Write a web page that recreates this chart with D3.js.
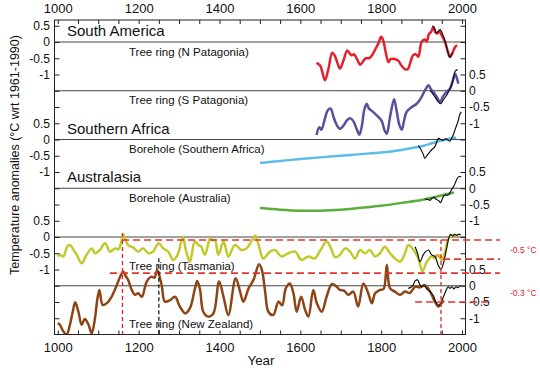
<!DOCTYPE html>
<html>
<head>
<meta charset="utf-8">
<script src="https://cdn.jsdelivr.net/npm/d3@7"></script>
<style>
  body { margin: 0; background: #fff; }
  svg { display: block; font-family: Arial, "Liberation Sans", sans-serif; }
</style>
</head>
<body>
<div id="chart"></div>
<script>
// Stacked proxy-temperature panels (°C wrt 1961-1990), each panel offset by
// 1.5 °C on one shared y scale. Values are [year, anomaly].

const yearTicks = [1000, 1200, 1400, 1600, 1800, 2000];
const regionTitles = ["South America", "Southern Africa", "Australasia"];
const regionPanels = [0, 2, 3];
const seriesLabels = [
  "Tree ring (N Patagonia)",
  "Tree ring (S Patagonia)",
  "Borehole (Southern Africa)",
  "Borehole (Australia)",
  "Tree ring (Tasmania)",
  "Tree ring (New Zealand)",
];
const panelTickValues = [0.5, 0, -0.5, -1];

const nPatagonia = [
  [1640, -0.64], [1649, -0.72], [1655, -0.95], [1661, -1.18], [1669, -0.86],
  [1679, -0.33], [1686, -0.44], [1692, -0.65], [1698, -0.82], [1706, -0.6],
  [1716, -0.26], [1722, -0.35], [1727, -0.41], [1733, -0.38], [1740, -0.52],
  [1748, -0.7], [1755, -0.6], [1762, -0.5], [1770, -0.5], [1778, -0.4],
  [1786, -0.21], [1793, -0.05], [1800, 0.16], [1805, 0.05], [1811, -0.3],
  [1818, -0.62], [1824, -0.52], [1832, -0.52], [1842, -0.57], [1850, -0.72],
  [1859, -0.84], [1866, -0.83], [1873, -0.6], [1879, -0.41], [1886, -0.38],
  [1892, -0.45], [1900, 0.0], [1908, 0.08], [1913, 0.02], [1918, 0.24],
  [1924, 0.32], [1929, 0.46], [1934, 0.3], [1938, 0.26], [1944, 0.32],
  [1950, 0.2], [1958, 0.0], [1965, -0.3], [1970, -0.46], [1977, -0.32],
  [1983, -0.15], [1988, -0.1],
];
const nPatagoniaObs = [
  [1927, 0.5], [1931, 0.45], [1937, 0.28], [1942, 0.34], [1946, 0.38],
  [1950, 0.3], [1955, 0.15], [1962, -0.15], [1966, -0.35], [1970, -0.47],
  [1974, -0.4], [1977, -0.33],
];

const sPatagonia = [
  [1640, -1.36], [1647, -1.12], [1652, -1.2], [1660, -0.9], [1668, -0.6],
  [1675, -0.55], [1682, -0.8], [1690, -1.05], [1698, -1.17], [1708, -1.05],
  [1716, -0.9], [1724, -0.85], [1732, -0.95], [1740, -1.2], [1746, -1.35],
  [1752, -1.1], [1758, -0.6], [1764, -0.4], [1770, -0.55], [1777, -0.62],
  [1789, -0.76], [1801, -0.92], [1808, -1.2], [1814, -1.32], [1822, -0.8],
  [1832, -0.26], [1838, -0.6], [1845, -1.05], [1851, -1.2], [1857, -0.9],
  [1863, -0.65], [1876, -0.5], [1888, -0.4], [1900, -0.19], [1910, 0.05],
  [1917, 0.17], [1923, 0.05], [1929, -0.04], [1938, -0.2], [1946, -0.35],
  [1952, -0.2], [1958, -0.09], [1965, 0.0], [1970, 0.06], [1977, 0.3],
  [1983, 0.52], [1987, 0.4], [1991, 0.22],
];
const sPatagoniaObs = [
  [1921, 0.01], [1927, -0.08], [1933, -0.19], [1940, -0.32], [1947, -0.4],
  [1954, -0.28], [1962, -0.14], [1968, 0.0], [1973, 0.12], [1978, 0.35],
  [1983, 0.6], [1989, 0.65],
];

const safricaBorehole = [
  [1500, -0.72], [1550, -0.66], [1600, -0.6], [1650, -0.55], [1700, -0.5],
  [1750, -0.45], [1800, -0.4], [1850, -0.32], [1900, -0.21], [1930, -0.1],
  [1960, 0.0], [1985, 0.06],
];
const safricaObs = [
  [1892, -0.19], [1898, -0.3], [1904, -0.45], [1908, -0.58], [1914, -0.48],
  [1921, -0.37], [1928, -0.28], [1933, -0.22], [1938, -0.05], [1942, 0.04],
  [1948, 0.0], [1954, -0.02], [1960, 0.02], [1966, -0.02], [1970, -0.05],
  [1975, 0.05], [1980, 0.2], [1985, 0.38], [1990, 0.55], [1994, 0.75],
  [1998, 0.85],
];

const australiaBorehole = [
  [1500, -0.61], [1550, -0.66], [1600, -0.69], [1650, -0.69], [1700, -0.66],
  [1750, -0.6], [1800, -0.54], [1850, -0.45], [1900, -0.36], [1930, -0.28],
  [1960, -0.19], [1980, -0.13],
];
const australiaObs = [
  [1908, -0.33], [1915, -0.34], [1921, -0.37], [1926, -0.3], [1931, -0.28],
  [1936, -0.34], [1942, -0.38], [1947, -0.44], [1952, -0.3], [1958, -0.2],
  [1963, -0.22], [1968, -0.18], [1974, -0.05], [1979, 0.05], [1983, 0.15],
  [1988, 0.3], [1993, 0.36], [1998, 0.35],
];

const tasmania = [
  [1000, -0.6], [1005, -0.55], [1014, -0.6], [1020, -0.4], [1026, -0.25],
  [1033, -0.28], [1040, -0.42], [1047, -0.55], [1059, -0.81], [1071, -0.55],
  [1084, -0.35], [1092, -0.5], [1104, -0.4], [1117, -0.19], [1129, -0.45],
  [1142, -0.35], [1150, -0.38], [1156, -0.2], [1162, 0.08], [1168, -0.1],
  [1174, -0.25], [1186, -0.32], [1199, -0.45], [1211, -0.35], [1224, -0.5],
  [1236, -0.45], [1249, -0.19], [1261, -0.35], [1273, -0.45], [1286, -0.71],
  [1298, -0.5], [1305, -0.15], [1310, 0.0], [1315, -0.3], [1319, -0.5],
  [1327, -0.76], [1339, -0.14], [1348, -0.25], [1355, -0.3], [1364, -0.55],
  [1377, -0.04], [1383, -0.1], [1389, -0.09], [1397, -0.55], [1410, -0.14],
  [1422, -0.6], [1438, -0.25], [1455, -0.4], [1467, -0.35], [1478, -0.15],
  [1488, 0.04], [1498, -0.3], [1508, -0.66], [1525, -0.45], [1537, -0.4],
  [1554, -0.6], [1570, -0.5], [1587, -0.45], [1603, -0.71], [1620, -0.6],
  [1636, -0.66], [1650, -0.4], [1665, -0.14], [1676, -0.35], [1686, -0.62],
  [1698, -0.55], [1711, -0.35], [1723, -0.45], [1735, -0.66], [1748, -0.4],
  [1760, -0.5], [1772, -0.4], [1785, -0.6], [1797, -0.5], [1809, -0.3],
  [1822, -0.5], [1834, -0.66], [1847, -0.76], [1859, -0.5], [1867, -0.25],
  [1880, -0.4], [1892, -0.66], [1902, -1.05], [1913, -0.76], [1925, -0.6],
  [1933, -0.65], [1941, -0.55], [1950, -0.71], [1958, -0.45], [1965, -0.1],
  [1970, 0.0], [1976, 0.05], [1983, 0.06], [1990, 0.02],
];
const tasmaniaAlt = [
  [1933, -0.62], [1938, -0.55], [1944, -0.6], [1950, -0.62],
];
const tasmaniaObs = [
  [1884, -0.3], [1890, -0.5], [1896, -0.76], [1904, -0.55], [1910, -0.45],
  [1917, -0.4], [1925, -0.55], [1933, -0.6], [1941, -0.86], [1948, -0.99],
  [1954, -0.81], [1962, -0.35], [1968, 0.0], [1972, 0.08], [1977, 0.03],
  [1982, 0.08], [1987, 0.05], [1992, 0.09], [1997, 0.06],
];

const newZealand = [
  [1000, -1.15], [1005, -1.2], [1014, -1.41], [1022, -1.5], [1030, -1.2],
  [1037, -0.8], [1043, -0.51], [1051, -0.8], [1059, -1.2], [1067, -1.02],
  [1076, -1.2], [1084, -1.46], [1092, -1.0], [1098, -0.4], [1103, -0.13],
  [1111, -0.59], [1121, -0.54], [1133, -0.34], [1146, 0.02], [1155, 0.3],
  [1162, 0.43], [1168, 0.3], [1174, 0.18], [1183, -0.13], [1191, -0.28],
  [1199, -0.23], [1208, -0.34], [1220, 0.13], [1232, 0.28], [1239, 0.25],
  [1246, 0.48], [1257, 0.02], [1265, -0.49], [1278, -0.44], [1290, -0.34],
  [1302, -0.64], [1315, -0.85], [1327, -0.69], [1339, -0.1], [1345, 0.15],
  [1352, -0.13], [1360, -0.8], [1372, -0.95], [1385, -0.85], [1399, 0.13],
  [1410, -0.34], [1422, -0.9], [1440, 0.23], [1451, -0.18], [1459, -0.49],
  [1472, -0.08], [1484, 0.18], [1498, 0.66], [1505, 0.48], [1513, -0.18],
  [1521, -0.8], [1533, -0.9], [1546, -0.49], [1555, -0.6], [1564, -0.08],
  [1574, 0.07], [1583, -0.23], [1591, -0.8], [1602, -0.34], [1612, -0.75],
  [1620, -0.95], [1632, -0.13], [1641, -0.54], [1653, -0.8], [1665, -0.34],
  [1678, 0.05], [1690, -0.03], [1698, -0.13], [1708, -0.15], [1719, -0.28],
  [1731, -0.18], [1743, -0.64], [1756, 0.07], [1768, -0.23], [1777, -0.54],
  [1785, -0.23], [1797, -0.13], [1806, -0.1], [1814, 0.64], [1822, -0.08],
  [1834, -0.18], [1847, -0.28], [1859, -0.18], [1871, -0.22], [1884, -0.03],
  [1896, -0.05], [1908, 0.02], [1921, -0.18], [1933, -0.49], [1942, -0.64],
  [1948, -0.55], [1955, -0.45],
];
const newZealandObs = [
  [1867, -0.08], [1873, -0.05], [1879, 0.02], [1884, 0.15], [1890, 0.18],
  [1895, 0.05], [1900, -0.03], [1906, 0.0], [1913, -0.1], [1921, -0.18],
  [1929, -0.3], [1935, -0.5], [1942, -0.6], [1948, -0.55], [1952, -0.4],
  [1957, -0.25], [1962, -0.1], [1966, -0.03], [1970, -0.08], [1975, -0.03],
  [1980, -0.1], [1985, -0.03], [1990, -0.06], [1995, 0.0],
];

// Red reference lines: [panel, fromYear, toYear, anomaly]
const refLevels = [
  [4, 1159, 2094, -0.09],
  [4, 1953, 2094, -0.68],
  [5, 1129, 2094, 0.39],
  [5, 1884, 2069, -0.5],
];
// Vertical markers: [year, panel, topAnomaly]
const refYears = [[1160, 4, 0.12], [1948, 4, -0.09]];
const refYearsBlack = [[1250, 4, -0.65]];
const refNotes = [[4, -0.4, "-0.5 °C"], [5, -0.22, "-0.3 °C"]];

// ─── layout ───────────────────────────────────────────────────────────
const W = 540, H = 368;
const STEP = 1.5;
const FRAME = { left: 54.5, right: 465.5, top: 20, bottom: 334.5 };
const x = d3.scaleLinear().domain([1000, 2000]).range([57.8, 462]);
const y = d3.scaleLinear().domain([0.677, -9.0]).range([FRAME.top, FRAME.bottom]);
const py = (panel, v) => y(v - STEP * panel);

const svg = d3.select("#chart").append("svg")
  .attr("width", W).attr("height", H)
  .attr("viewBox", `0 0 ${W} ${H}`);

svg.append("defs").append("clipPath").attr("id", "frame")
  .append("rect")
  .attr("x", FRAME.left).attr("y", FRAME.top)
  .attr("width", FRAME.right - FRAME.left)
  .attr("height", FRAME.bottom - FRAME.top);

// ─── zero lines ───────────────────────────────────────────────────────
svg.append("g").selectAll("line")
  .data(d3.range(6))
  .join("line")
  .attr("x1", FRAME.left).attr("x2", FRAME.right)
  .attr("y1", (p) => py(p, 0)).attr("y2", (p) => py(p, 0))
  .attr("stroke", "#444").attr("stroke-width", 1);

// ─── series ───────────────────────────────────────────────────────────
const series = [
  { data: nPatagonia, panel: 0, color: "#e3202b", width: 2.5 },
  { data: sPatagonia, panel: 1, color: "#5a4e9e", width: 2.5 },
  { data: safricaBorehole, panel: 2, color: "#5bbde8", width: 2.5 },
  { data: australiaBorehole, panel: 3, color: "#5aae3a", width: 2.5 },
  { data: tasmania, panel: 4, color: "#c3c82c", width: 2.5 },
  { data: tasmaniaAlt, panel: 4, color: "#e8a23a", width: 2 },
  { data: newZealand, panel: 5, color: "#8e4515", width: 2.5 },
  { data: nPatagoniaObs, panel: 0, color: "#111", width: 1.2 },
  { data: sPatagoniaObs, panel: 1, color: "#111", width: 1.2 },
  { data: safricaObs, panel: 2, color: "#111", width: 1.2 },
  { data: australiaObs, panel: 3, color: "#111", width: 1.2 },
  { data: tasmaniaObs, panel: 4, color: "#111", width: 1.2 },
  { data: newZealandObs, panel: 5, color: "#111", width: 1.2 },
];

const plot = svg.append("g").attr("clip-path", "url(#frame)");
plot.selectAll("path.series")
  .data(series)
  .join("path")
  .attr("class", "series")
  .attr("fill", "none")
  .attr("stroke", (d) => d.color)
  .attr("stroke-width", (d) => d.width)
  .attr("stroke-linejoin", "round")
  .attr("d", (s) => d3.line()
    .x((d) => x(d[0]))
    .y((d) => py(s.panel, d[1]))
    .curve(d3.curveCatmullRom.alpha(0.5))(s.data));

// ─── frame + axes ─────────────────────────────────────────────────────
svg.append("rect")
  .attr("x", FRAME.left).attr("y", FRAME.top)
  .attr("width", FRAME.right - FRAME.left)
  .attr("height", FRAME.bottom - FRAME.top)
  .attr("fill", "none").attr("stroke", "#222").attr("stroke-width", 1);

const minorYears = d3.range(1000, 2001, 50);
const fmtYear = (d) => (yearTicks.includes(d) ? d : "");
const styleAxis = (g) => {
  g.select(".domain").remove();
  g.selectAll(".tick line").attr("stroke", "#222");
  g.selectAll("text").attr("fill", "#111").attr("font-family", null);
};

svg.append("g")
  .attr("transform", `translate(0,${FRAME.top})`)
  .call(d3.axisTop(x).tickValues(minorYears).tickFormat(fmtYear)
    .tickSizeInner(-4).tickSizeOuter(0).tickPadding(7))
  .attr("font-size", 13)
  .call(styleAxis);

svg.append("g")
  .attr("transform", `translate(0,${FRAME.bottom})`)
  .call(d3.axisBottom(x).tickValues(minorYears).tickFormat(fmtYear)
    .tickSizeInner(-4).tickSizeOuter(0).tickPadding(8.3))
  .attr("font-size", 13)
  .call(styleAxis);

// each side labels alternate panels: left 0,2,4 / right 1,3,5
const halfSteps = d3.range(0.5, -8.51, -0.5);
const sideFormat = (panels) => (g) => {
  for (const p of panels) {
    const local = g + STEP * p;
    if (panelTickValues.some((t) => Math.abs(t - local) < 1e-6)) {
      return Math.abs(local) < 1e-6 ? "0" : String(Math.round(local * 10) / 10);
    }
  }
  return "";
};

svg.append("g")
  .attr("transform", `translate(${FRAME.left},0)`)
  .call(d3.axisLeft(y).tickValues(halfSteps).tickFormat(sideFormat([0, 2, 4]))
    .tickSizeInner(-5).tickSizeOuter(0).tickPadding(4.5))
  .attr("font-size", 12)
  .call(styleAxis);

svg.append("g")
  .attr("transform", `translate(${FRAME.right},0)`)
  .call(d3.axisRight(y).tickValues(halfSteps).tickFormat(sideFormat([1, 3, 5]))
    .tickSizeInner(-5).tickSizeOuter(0).tickPadding(3.5))
  .attr("font-size", 12)
  .call(styleAxis);

// ─── reference markers ────────────────────────────────────────────────
const refs = svg.append("g");
refs.selectAll("line.level")
  .data(refLevels)
  .join("line")
  .attr("class", "level")
  .attr("x1", (d) => x(d[1])).attr("x2", (d) => x(d[2]))
  .attr("y1", (d) => py(d[0], d[3])).attr("y2", (d) => py(d[0], d[3]))
  .attr("stroke", "#e2342f").attr("stroke-width", 1.6)
  .attr("stroke-dasharray", "7 4");

refs.selectAll("line.year")
  .data(refYears)
  .join("line")
  .attr("class", "year")
  .attr("x1", (d) => x(d[0])).attr("x2", (d) => x(d[0]))
  .attr("y1", (d) => py(d[1], d[2])).attr("y2", FRAME.bottom)
  .attr("stroke", "#e2202a").attr("stroke-width", 1.3)
  .attr("stroke-dasharray", "4 3");

refs.selectAll("line.yearBlack")
  .data(refYearsBlack)
  .join("line")
  .attr("class", "yearBlack")
  .attr("x1", (d) => x(d[0])).attr("x2", (d) => x(d[0]))
  .attr("y1", (d) => py(d[1], d[2])).attr("y2", FRAME.bottom)
  .attr("stroke", "#111").attr("stroke-width", 1.2)
  .attr("stroke-dasharray", "4 2.5");

refs.selectAll("text")
  .data(refNotes)
  .join("text")
  .attr("x", 510)
  .attr("y", (d) => py(d[0], d[1]) + 3)
  .attr("font-size", 8.5)
  .attr("fill", "#e2202a")
  .text((d) => d[2]);

// ─── titles + labels ──────────────────────────────────────────────────
svg.append("g").selectAll("text")
  .data(regionTitles)
  .join("text")
  .attr("x", 67)
  .attr("y", (d, i) => py(regionPanels[i], 0) - 6)
  .attr("font-size", 15)
  .attr("fill", "#111")
  .text((d) => d);

svg.append("g").selectAll("text")
  .data(seriesLabels)
  .join("text")
  .attr("x", 129)
  .attr("y", (d, i) => py(i, 0) + (i === 4 ? 33 : i === 5 ? 42 : 13.5))
  .attr("font-size", 11.5)
  .attr("fill", "#111")
  .text((d) => d);

svg.append("text")
  .attr("x", 261).attr("y", 365)
  .attr("text-anchor", "middle")
  .attr("font-size", 13.3)
  .attr("fill", "#111")
  .text("Year");

svg.append("text")
  .attr("transform", "translate(19,155) rotate(-90)")
  .attr("text-anchor", "middle")
  .attr("font-size", 12.5)
  .attr("fill", "#111")
  .text("Temperature anomalies  (°C wrt 1961-1990)");
</script>
</body>
</html>
